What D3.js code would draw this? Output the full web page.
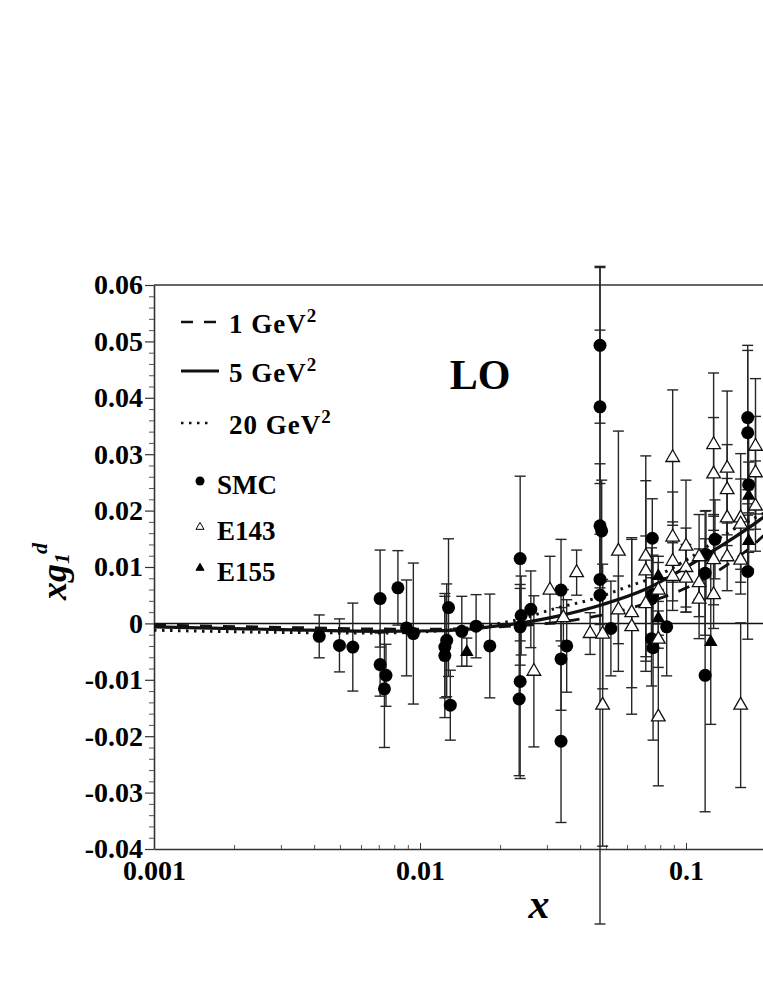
<!DOCTYPE html>
<html>
<head>
<meta charset="utf-8">
<script src="https://cdn.jsdelivr.net/npm/d3@7"></script>
<style>
  body { margin: 0; background: #fff; }
  svg { display: block; }
  svg text { font-family: "Liberation Serif", "Times New Roman", serif; font-weight: bold; }
</style>
</head>
<body>
<svg id="chart" width="763" height="987"></svg>
<script>
// ---- data: [x, xg1d, error] ----
const smcData = [
  [0.00418, -0.0023, 0.0038], [0.00498, -0.0039, 0.0047], [0.00559, -0.0042, 0.0078],
  [0.00708, 0.0044, 0.0086], [0.00708, -0.0073, 0.0056], [0.00745, -0.0092, 0.0055],
  [0.00735, -0.0116, 0.0104], [0.00826, 0.0063, 0.0066], [0.0089, -0.0008, 0.0085],
  [0.00944, -0.0018, 0.0125], [0.0128, 0.0028, 0.0122], [0.0126, -0.0030, 0.0100],
  [0.0124, -0.0042, 0.0090], [0.0124, -0.0057, 0.0110], [0.0130, -0.0145, 0.0062],
  [0.01436, -0.0014, 0.0062], [0.01625, -0.0005, 0.0056], [0.0183, -0.0040, 0.0092],
  [0.0238, 0.0115, 0.0146], [0.0240, 0.0014, 0.0070], [0.0238, -0.0006, 0.0068],
  [0.0238, -0.0103, 0.0172], [0.0236, -0.0134, 0.0136], [0.0261, 0.0025, 0.0068],
  [0.0339, 0.0059, 0.0090], [0.0339, -0.0063, 0.0091], [0.0339, -0.0209, 0.0144],
  [0.0356, -0.0040, 0.0082], [0.0475, 0.0493, 0.0138], [0.0475, 0.0384, 0.0136],
  [0.0475, 0.0173, 0.0110], [0.0482, 0.0164, 0.0090], [0.0475, 0.0078, 0.0080],
  [0.0475, 0.0050, 0.0583], [0.0522, -0.0009, 0.0084], [0.0747, 0.0151, 0.0070],
  [0.0747, 0.0051, 0.0100], [0.0742, 0.0044, 0.0090], [0.0742, -0.0027, 0.0084],
  [0.0752, -0.0043, 0.0164], [0.0846, -0.0006, 0.0087], [0.1189, 0.0122, 0.0078],
  [0.1180, 0.0089, 0.0110], [0.1180, -0.0092, 0.0242], [0.1285, 0.0149, 0.0070],
  [0.1706, 0.0365, 0.0128], [0.1706, 0.0338, 0.0146], [0.1706, 0.0092, 0.0120],
  [0.1720, 0.0246, 0.0120]
]

const e143Data = [
  [0.0268, -0.0085, 0.0134], [0.0308, 0.0059, 0.0060], [0.0346, 0.0010, 0.0050],
  [0.0388, 0.0090, 0.0040], [0.0436, -0.0018, 0.0037], [0.0486, -0.0019, 0.0097],
  [0.0486, -0.0145, 0.0250], [0.0557, 0.0128, 0.0213], [0.0557, 0.0024, 0.0060],
  [0.0625, 0.0019, 0.0133], [0.0625, -0.0006, 0.0155], [0.0706, 0.0119, 0.0178],
  [0.0706, 0.0093, 0.0160], [0.0706, 0.0035, 0.0120], [0.0787, 0.0059, 0.0060],
  [0.0787, -0.0028, 0.0050], [0.0787, -0.0166, 0.0122], [0.0891, 0.0294, 0.0120],
  [0.0891, 0.0153, 0.0080], [0.0891, 0.0110, 0.0070], [0.0891, 0.0083, 0.0060],
  [0.1000, 0.0137, 0.0117], [0.1000, 0.0099, 0.0070], [0.1000, 0.0080, 0.0060],
  [0.1120, 0.0118, 0.0075], [0.1120, 0.0072, 0.0060], [0.1120, 0.0043, 0.0070],
  [0.1270, 0.0317, 0.0127], [0.1270, 0.0265, 0.0100], [0.1270, 0.0113, 0.0080],
  [0.1270, 0.0051, 0.0060], [0.1428, 0.0275, 0.0137], [0.1428, 0.0237, 0.0080],
  [0.1428, 0.0187, 0.0070], [0.1428, 0.0118, 0.0060], [0.1605, 0.0187, 0.0114],
  [0.1605, 0.0176, 0.0080], [0.1605, 0.0112, 0.0060], [0.1605, -0.0145, 0.0146],
  [0.1825, 0.0314, 0.0120], [0.1825, 0.0267, 0.0100], [0.1825, 0.0208, 0.0080]
]

const e155Data = [
  [0.0150, -0.0051, 0.0025], [0.0787, 0.0084, 0.0024], [0.0787, 0.0009, 0.0030],
  [0.1239, -0.0033, 0.0146], [0.1720, 0.0226, 0.0060], [0.1720, 0.0146, 0.0050]
]

// LO curves at Q^2 = 1, 5, 20 GeV^2: [x, xg1d]
const q1Curve = [
  [0.001, -0.0003], [0.003, -0.0007], [0.008, -0.0010], [0.012, -0.0010], [0.02, -0.0006],
  [0.03, 0.0000], [0.045, 0.0012], [0.06, 0.0025], [0.075, 0.0040], [0.097, 0.0060],
  [0.14, 0.0101], [0.19, 0.0150], [0.25, 0.0210]
]
const q5Curve = [
  [0.001, -0.0006], [0.003, -0.0011], [0.007, -0.0014], [0.012, -0.0013], [0.017, -0.0008],
  [0.024, 0.0001], [0.033, 0.0013], [0.049, 0.0034], [0.07, 0.0060], [0.097, 0.0096],
  [0.135, 0.0137], [0.19, 0.0184], [0.25, 0.0230]
]
const q20Curve = [
  [0.001, -0.0012], [0.003, -0.0016], [0.007, -0.0017], [0.012, -0.0013], [0.017, -0.0005],
  [0.024, 0.0008], [0.032, 0.0026], [0.046, 0.0045], [0.061, 0.0066], [0.076, 0.0082],
  [0.1, 0.0112], [0.145, 0.0162], [0.19, 0.0192], [0.25, 0.0220]
]

const yMajorTicks = [-0.04, -0.03, -0.02, -0.01, 0, 0.01, 0.02, 0.03, 0.04, 0.05, 0.06]
const yTickLabels = ["-0.04", "-0.03", "-0.02", "-0.01", "0", "0.01", "0.02", "0.03", "0.04", "0.05", "0.06"]
const xMajorTicks = [0.001, 0.01, 0.1]
const xTickLabels = ["0.001", "0.01", "0.1"]

const svg = d3.select("#chart")
const ink = "#111"
const serif = '"Liberation Serif", "Times New Roman", serif'

// scales - the frame runs past the right edge of the page (x up to 1)
const x = d3.scaleLog().domain([0.001, 1]).range([154, 952])
const y = d3.scaleLinear().domain([-0.04, 0.06]).range([849, 285])

// minor ticks
const yMinor = d3.range(-0.04, 0.0601, 0.002).map(v => +v.toFixed(3))
  .filter(v => !yMajorTicks.some(t => Math.abs(t - v) < 1e-9))
const xMinor = []
for (let dec = 0.001; dec < 0.5; dec *= 10)
  for (let k = 2; k <= 9; k++) xMinor.push(+(dec * k).toPrecision(3))

// ---- axes ----
const yAxis = svg.append("g").attr("transform", "translate(154,0)")
  .style("color", "#333")
  .call(d3.axisLeft(y).tickValues(yMajorTicks).tickSize(9).tickSizeOuter(0).tickPadding(2)
    .tickFormat((d, i) => yTickLabels[i]))
yAxis.selectAll("text").attr("fill", "#000").style("font-size", "28px")
  .style("font-family", serif).style("font-weight", "bold")
yAxis.select(".domain").attr("stroke-width", 1.6)
yAxis.selectAll(".tick line").attr("stroke-width", 1.2)

svg.append("g").attr("transform", "translate(154,0)").style("color", "#555")
  .call(d3.axisLeft(y).tickValues(yMinor).tickSize(5).tickSizeOuter(0).tickFormat(""))
  .call(g => g.select(".domain").remove())

const xAxis = svg.append("g").attr("transform", "translate(0,849)")
  .style("color", "#333")
  .call(d3.axisBottom(x).tickValues(xMajorTicks).tickSize(-6).tickSizeOuter(0).tickPadding(11)
    .tickFormat((d, i) => xTickLabels[i]))
xAxis.selectAll("text").attr("fill", "#000").style("font-size", "28px")
  .style("font-family", serif).style("font-weight", "bold")
xAxis.select(".domain").attr("stroke-width", 1.6)

svg.append("g").attr("transform", "translate(0,849)").style("color", "#555")
  .call(d3.axisBottom(x).tickValues(xMinor).tickSize(-4).tickSizeOuter(0).tickFormat(""))
  .call(g => g.select(".domain").remove())

// top frame, right frame (off page) and zero line
svg.append("line").attr("x1", x(0.001)).attr("x2", x(1)).attr("y1", y(0.06)).attr("y2", y(0.06))
  .attr("stroke", "#333").attr("stroke-width", 1.6)
svg.append("line").attr("x1", x(1)).attr("x2", x(1)).attr("y1", y(0.06)).attr("y2", y(-0.04))
  .attr("stroke", "#333").attr("stroke-width", 1.6)
svg.append("line").attr("x1", x(0.001)).attr("x2", x(1)).attr("y1", y(0)).attr("y2", y(0))
  .attr("stroke", ink).attr("stroke-width", 1.5)

// ---- error bars ----
const allPoints = smcData.concat(e143Data, e155Data)
const bars = svg.append("g").attr("stroke", "#262626").attr("stroke-width", 1.4)
allPoints.forEach(([px, py, e]) => {
  const cx = x(px)
  bars.append("line").attr("x1", cx).attr("x2", cx).attr("y1", y(py + e)).attr("y2", y(py - e))
  bars.append("line").attr("x1", cx - 5.5).attr("x2", cx + 5.5).attr("y1", y(py + e)).attr("y2", y(py + e))
  bars.append("line").attr("x1", cx - 5.5).attr("x2", cx + 5.5).attr("y1", y(py - e)).attr("y2", y(py - e))
})

// ---- curves ----
const line = d3.line().x(d => x(d[0])).y(d => y(d[1])).curve(d3.curveMonotoneX)
svg.append("path").datum(q1Curve).attr("d", line).attr("fill", "none")
  .attr("stroke", ink).attr("stroke-width", 2.8).attr("stroke-dasharray", "12,11")
svg.append("path").datum(q5Curve).attr("d", line).attr("fill", "none")
  .attr("stroke", ink).attr("stroke-width", 3.2)
svg.append("path").datum(q20Curve).attr("d", line).attr("fill", "none")
  .attr("stroke", ink).attr("stroke-width", 3).attr("stroke-dasharray", "2.5,5.5")

// ---- markers ----
const tri = d3.symbol().type(d3.symbolTriangle).size(80)
svg.append("g").selectAll("circle").data(smcData).join("circle")
  .attr("cx", d => x(d[0])).attr("cy", d => y(d[1])).attr("r", 6.5).attr("fill", "#000")
svg.append("g").selectAll("path").data(e143Data).join("path")
  .attr("d", tri).attr("transform", d => `translate(${x(d[0])},${y(d[1])})`)
  .attr("fill", "#fff").attr("stroke", "#111").attr("stroke-width", 1.3)
svg.append("g").selectAll("path").data(e155Data).join("path")
  .attr("d", tri).attr("transform", d => `translate(${x(d[0])},${y(d[1])})`)
  .attr("fill", "#000")

// ---- legend ----
const curveLegend = [
  { label: "1", dash: "12,11", w: 2.6, y: 322, end: 219 },
  { label: "5", dash: null, w: 3, y: 371, end: 219 },
  { label: "20", dash: "2.5,5.5", w: 2.6, y: 423, end: 209 }
]
curveLegend.forEach(d => {
  svg.append("line").attr("x1", 181).attr("x2", d.end)
    .attr("y1", d.y).attr("y2", d.y).attr("stroke", ink).attr("stroke-width", d.w)
    .attr("stroke-dasharray", d.dash)
  const t = svg.append("text").attr("x", 229).attr("y", d.y + 11).style("font-size", "27px")
    .attr("letter-spacing", 1)
  t.append("tspan").text(d.label + " GeV")
  t.append("tspan").attr("dy", -11).style("font-size", "19px").text("2")
})

const markerLegend = [
  { label: "SMC", type: "circle", y: 481 },
  { label: "E143", type: "open", y: 527 },
  { label: "E155", type: "filled", y: 568 }
]
const smallTri = d3.symbol().type(d3.symbolTriangle).size(28)
markerLegend.forEach(d => {
  if (d.type === "circle")
    svg.append("circle").attr("cx", 200).attr("cy", d.y).attr("r", 4.5).attr("fill", "#000")
  else
    svg.append("path").attr("d", smallTri).attr("transform", `translate(200,${d.y})`)
      .attr("fill", d.type === "open" ? "#fff" : "#000").attr("stroke", "#000").attr("stroke-width", 1)
  svg.append("text").attr("x", 217).attr("y", d.y + 13).style("font-size", "27px").text(d.label)
})

// ---- titles ----
svg.append("text").attr("x", 480).attr("y", 389).attr("text-anchor", "middle")
  .style("font-size", "42px").text("LO")

svg.append("text").attr("x", 539).attr("y", 918).attr("text-anchor", "middle")
  .style("font-size", "42px").style("font-style", "italic").text("x")

const yLab = svg.append("text").attr("transform", "translate(66,600) rotate(-90)")
  .style("font-size", "36px").style("font-style", "italic")
yLab.append("tspan").text("xg")
yLab.append("tspan").style("font-size", "22px").attr("dy", 3).text("1")
yLab.append("tspan").style("font-size", "22px").attr("dx", -1).attr("dy", -22).text("d")
</script>
</body>
</html>
